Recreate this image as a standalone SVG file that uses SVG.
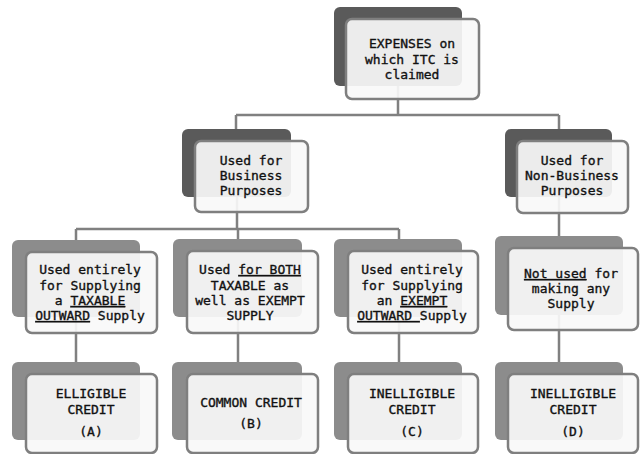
<svg xmlns="http://www.w3.org/2000/svg" width="641" height="454" viewBox="0 0 641 454">
<style>
.bg{fill:#ffffff}
.b1{fill:#5a5a5a}
.b2{fill:#8c8c8c}
.f{fill:#f8f8f8;fill-opacity:0.92;stroke:#7f7f7f;stroke-width:2.5}
.c{stroke:#808080;stroke-width:2.5;fill:none}
.t{font-family:"DejaVu Sans Mono","Liberation Mono",monospace;font-size:13px;fill:#111111;stroke:#111111;stroke-width:0.35;text-anchor:middle}
.u{text-decoration:underline}
</style>
<rect class="bg" x="0" y="0" width="641" height="454"/>
<g id="connectors">
<path class="c" d="M398 86V115M236 115H559M236 115V129M559 115V129"/>
<path class="c" d="M237 197V229M76 229H399M76 229V240M238 229V239M399 229V239M559 197V236"/>
<path class="c" d="M76 317V362M238 317V362M399 317V362M559 315V362"/>
</g>
<g id="expenses">
<rect class="b1" x="334" y="7" width="128" height="79" rx="6"/>
<rect class="f" x="346" y="19" width="133" height="80" rx="6"/>
<text class="t" x="412"><tspan x="412" y="48">EXPENSES on</tspan><tspan x="412" y="64">which ITC is</tspan><tspan x="412" y="79">claimed</tspan></text>
</g>
<g id="business">
<rect class="b1" x="182" y="129" width="109" height="68" rx="6"/>
<rect class="f" x="195" y="141" width="113" height="71" rx="6"/>
<text class="t"><tspan x="251" y="165">Used for</tspan><tspan x="251" y="180">Business</tspan><tspan x="251" y="195">Purposes</tspan></text>
</g>
<g id="nonbusiness">
<rect class="b1" x="505" y="129" width="107" height="68" rx="6"/>
<rect class="f" x="517" y="141" width="111" height="72" rx="6"/>
<text class="t"><tspan x="572" y="165">Used for</tspan><tspan x="572" y="180">Non-Business</tspan><tspan x="572" y="195">Purposes</tspan></text>
</g>
<g id="taxable">
<rect class="b2" x="12" y="240" width="128" height="77" rx="6"/>
<rect class="f" x="26" y="252" width="131" height="81" rx="6"/>
<text class="t" x="90" y="274">Used entirely</text>
<text class="t" x="90" y="290">for Supplying</text>
<text class="t" x="90" y="305">a <tspan class="u">TAXABLE</tspan></text>
<text class="t" x="90" y="320"><tspan class="u">OUTWARD</tspan> Supply</text>
</g>
<g id="both">
<rect class="b2" x="173" y="239" width="129" height="78" rx="6"/>
<rect class="f" x="187" y="251" width="131" height="82" rx="6"/>
<text class="t" x="250" y="274">Used <tspan class="u">for BOTH</tspan></text>
<text class="t" x="250" y="290">TAXABLE as</text>
<text class="t" x="250" y="305">well as EXEMPT</text>
<text class="t" x="250" y="320">SUPPLY</text>
</g>
<g id="exempt">
<rect class="b2" x="334" y="239" width="128" height="78" rx="6"/>
<rect class="f" x="348" y="251" width="130" height="82" rx="6"/>
<text class="t" x="412" y="274">Used entirely</text>
<text class="t" x="412" y="290">for Supplying</text>
<text class="t" x="412" y="305">an <tspan class="u">EXEMPT</tspan></text>
<text class="t" x="412" y="320"><tspan class="u">OUTWARD </tspan>Supply</text>
</g>
<g id="notused">
<rect class="b2" x="495" y="236" width="128" height="79" rx="6"/>
<rect class="f" x="508" y="248" width="130" height="82" rx="6"/>
<text class="t" x="571" y="278"><tspan class="u">Not used</tspan> for</text>
<text class="t" x="571" y="293">making any</text>
<text class="t" x="571" y="308">Supply</text>
</g>
<g id="creditA">
<rect class="b2" x="12" y="362" width="128" height="78" rx="6"/>
<rect class="f" x="26" y="374" width="131" height="79" rx="6"/>
<text class="t"><tspan x="91" y="398">ELLIGIBLE</tspan><tspan x="91" y="414">CREDIT</tspan><tspan x="91" y="436">(A)</tspan></text>
</g>
<g id="creditB">
<rect class="b2" x="172" y="362" width="130" height="78" rx="6"/>
<rect class="f" x="187" y="374" width="131" height="79" rx="6"/>
<text class="t"><tspan x="251" y="407">COMMON CREDIT</tspan><tspan x="251" y="428">(B)</tspan></text>
</g>
<g id="creditC">
<rect class="b2" x="334" y="362" width="128" height="78" rx="6"/>
<rect class="f" x="348" y="374" width="130" height="79" rx="6"/>
<text class="t"><tspan x="412" y="398">INELLIGIBLE</tspan><tspan x="412" y="414">CREDIT</tspan><tspan x="412" y="436">(C)</tspan></text>
</g>
<g id="creditD">
<rect class="b2" x="495" y="362" width="128" height="78" rx="6"/>
<rect class="f" x="508" y="374" width="130" height="79" rx="6"/>
<text class="t"><tspan x="573" y="398">INELLIGIBLE</tspan><tspan x="573" y="414">CREDIT</tspan><tspan x="573" y="436">(D)</tspan></text>
</g>
</svg>
